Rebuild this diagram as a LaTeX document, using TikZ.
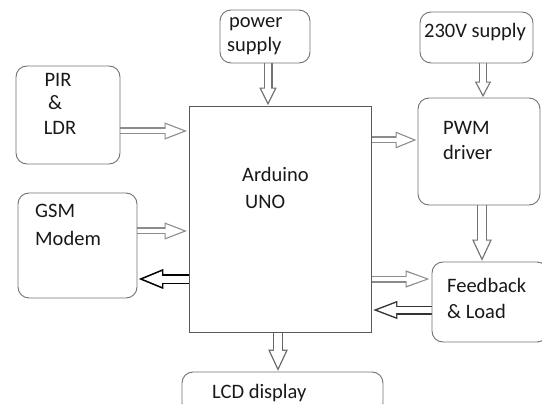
\documentclass[tikz,border=0pt]{standalone}
\usepackage{fontspec}
\setmainfont{Carlito}
\usetikzlibrary{arrows.meta,backgrounds}
\newcommand\holarrow[7]{%
  \pgfmathsetmacro\hoHW{#3/2}%
  \pgfmathsetmacro\hoAng{atan(\hoHW/#4)}%
  \pgfmathsetmacro\hoBack{#5/sin(\hoAng)}%
  \pgfmathsetmacro\hoIB{#4-#5}%
  \pgfmathsetmacro\hoIL{\hoIB-\hoBack}%
  \pgfmathsetmacro\hoIW{2*(\hoHW*\hoIB/#4-#5/cos(\hoAng))}%
  \pgfmathsetmacro\hoILW{#2-2*#5}%
  \draw[line width=#2pt,draw=#1,-{Triangle[length=#4pt,width=#3pt]}] #6 -- #7;
  \draw[line width=\hoILW pt,draw=white,shorten >=\hoBack pt,-{Triangle[length=\hoIL pt,width=\hoIW pt]}] #6 -- #7;
}
\tikzset{
  box/.style={draw=black!55, line width=0.9pt, rounded corners=11pt, inner sep=0pt},
  sharpbox/.style={draw=black!65, line width=0.9pt, inner sep=0pt},
  lbl/.style={inner sep=0pt, font=\fontsize{20.5}{25}\selectfont, text=black!90},
}
\begin{document}
\begin{tikzpicture}[x=1pt,y=-1pt]
\useasboundingbox (0,0) rectangle (542,404);
\clip (0,0) rectangle (542,404);
% boxes
\node[box, minimum width=104pt, minimum height=98pt] (pir) at (68,115) {};
\node[box, minimum width=119pt, minimum height=105pt] (gsm) at (77.5,245.5) {};
\node[sharpbox, minimum width=182pt, minimum height=226pt] (ard) at (280,219) {};
\node[box, minimum width=90pt, minimum height=53pt] (pow) at (265,36.5) {};
\node[box, minimum width=113pt, minimum height=51pt] (v230) at (476.5,37.5) {};
\node[box, minimum width=122pt, minimum height=107pt] (pwm) at (479,151.5) {};
\node[box, minimum width=116pt, minimum height=80pt] (fb) at (490,302) {};
\node[box, minimum width=201pt, minimum height=42pt] (lcd) at (282.5,393) {};
% texts
\node[lbl, anchor=base] (pirA) at (58,87) {PIR};
\node[lbl, anchor=base] (pirB) at (55,110) {\&};
\node[lbl, anchor=base] (pirC) at (60,135) {LDR};
\node[lbl, anchor=base west] (gsmA) at (35,218) {GSM};
\node[lbl, anchor=base west] (gsmB) at (35,245) {Modem};
\node[lbl, anchor=base west] (ardA) at (242,182) {Arduino};
\node[lbl, anchor=base west] (ardB) at (245,208) {UNO};
\node[lbl, anchor=base west] (powA) at (229,28) {power};
\node[lbl, anchor=base west] (powB) at (227,52) {supply};
\node[lbl, anchor=base west] (v230A) at (424,38) {230V supply};
\node[lbl, anchor=base west] (pwmA) at (443,135) {PWM};
\node[lbl, anchor=base west] (pwmB) at (443,160) {driver};
\node[lbl, anchor=base west] (fbA) at (447,292) {Feedback};
\node[lbl, anchor=base west] (fbB) at (447,318) {\& Load};
\node[lbl, anchor=base west] (lcdA) at (212,398) {LCD display};
% arrows
\begin{scope}[on background layer]
\fill[white] (0,0) rectangle (542,404);
\holarrow{black!45}{7}{15}{24}{1.1}{(pir.east |- 0,131)}{(ard.west |- 0,131)}
\holarrow{black!45}{7}{15}{24}{1.1}{(gsm.east |- 0,231)}{(ard.west |- 0,231)}
\holarrow{black}{10}{18}{26}{1.5}{(ard.west |- 0,279)}{(gsm.east |- 0,279)}
\holarrow{black!45}{7}{15}{22}{1.1}{(ard.east |- 0,140)}{(pwm.west |- 0,140)}
\holarrow{black!45}{7}{15}{26}{1.1}{(ard.east |- 0,279)}{(fb.west |- 0,279)}
\holarrow{black!80}{9}{16}{26}{1.3}{(fb.west |- 0,310)}{(ard.east |- 0,310)}
\holarrow{black!55}{9}{16}{18}{1.2}{(pow.south -| 268,0)}{(ard.north -| 268,0)}
\holarrow{black!55}{8}{15}{16}{1.2}{(v230.south -| 483,0)}{(pwm.north -| 483,0)}
\holarrow{black!55}{10}{18}{22}{1.2}{(pwm.south -| 482,0)}{(fb.north -| 482,0)}
\holarrow{black!60}{10}{18}{22}{1.2}{(ard.south -| 278,0)}{(lcd.north -| 278,0)}
\end{scope}
\end{tikzpicture}
\end{document}
